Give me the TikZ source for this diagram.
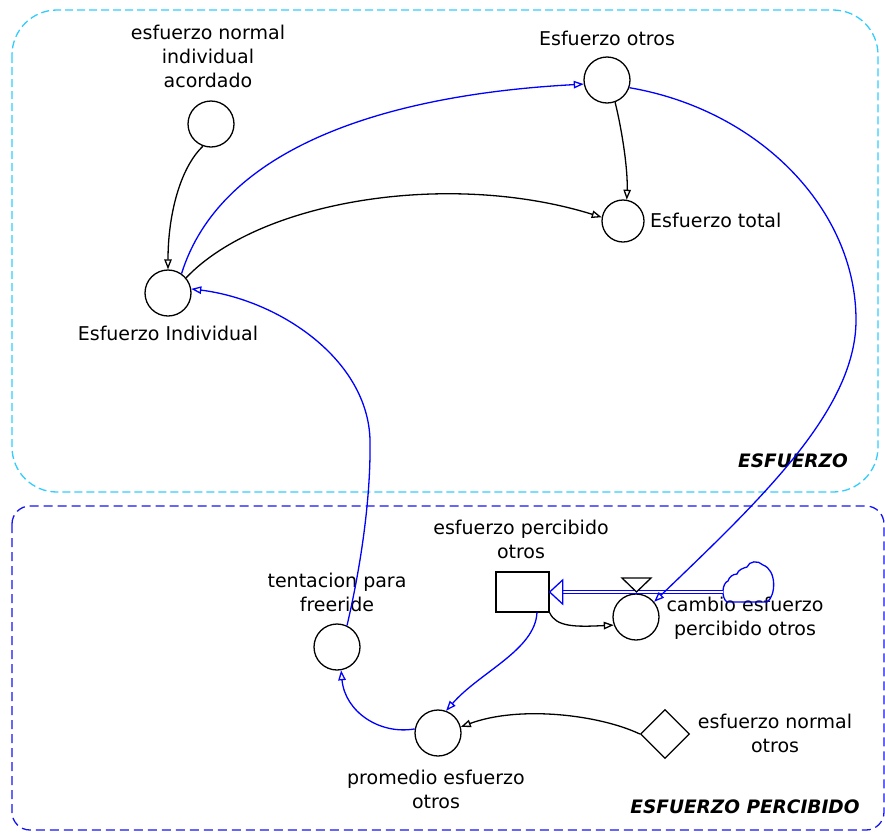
\documentclass[tikz,border=0pt]{standalone}
\usepackage{fontspec}
\setmainfont{DejaVu Sans}
\usetikzlibrary{arrows.meta,shapes.geometric,calc}
\definecolor{boxcyan}{RGB}{51,204,255}
\definecolor{boxblue}{RGB}{20,20,245}
\definecolor{linkblue}{RGB}{0,0,255}

\begin{document}
\begin{tikzpicture}[x=1pt,y=-1pt,
  aux/.style={draw, circle, minimum size=46pt, inner sep=0pt, line width=1.3pt},
  lbl/.style={font=\fontsize{19}{24}\selectfont, align=center, inner sep=0pt},
  sector/.style={font=\fontsize{18.5}{22}\selectfont\bfseries\itshape, inner sep=0pt, anchor=base},
  klink/.style={line width=1.3pt, -{Triangle[open,length=10pt,width=7.5pt]}},
  blink/.style={klink, draw=linkblue},
  pipe/.style={draw=linkblue, line width=1.1pt, double=white, double distance=2.4pt},
]
\useasboundingbox (0,0) rectangle (885,833);

% sector outlines
\draw[boxcyan, line width=1.3pt, dash pattern=on 8pt off 4pt, rounded corners=45pt]
  (12,10) rectangle (878,492);
\draw[boxblue, line width=1.3pt, dash pattern=on 9pt off 5pt, rounded corners=18pt]
  (12,506) rectangle (884,830);
\node[sector] (secA) at (793,467) {ESFUERZO};
\node[sector] (secB) at (745,813) {ESFUERZO PERCIBIDO};

% variables
\node[aux] (acord) at (211,124) {};
\node[aux] (eotros) at (607,80) {};
\node[aux, minimum size=42pt] (etotal) at (623,221) {};
\node[aux] (indiv) at (168,293) {};
\node[aux] (tent) at (337,647) {};
\node[aux] (prom) at (438,733) {};
\node[draw, diamond, minimum width=49pt, minimum height=49pt, inner sep=0pt, line width=1.3pt] (enorm) at (665,734) {};
\node[draw, rectangle, minimum width=53pt, minimum height=40pt, inner sep=0pt, line width=1.3pt] (stock) at (522.5,592) {};
\node[aux] (valve) at (636,617) {};

% labels
\node[lbl] (lacord) at (208,56) {esfuerzo normal\\individual\\acordado};
\node[lbl, anchor=base] (leotros) at (607,45) {Esfuerzo otros};
\node[lbl, anchor=base west] (letotal) at (650,227) {Esfuerzo total};
\node[lbl, anchor=base] (lindiv) at (168,340) {Esfuerzo Individual};
\node[lbl] (ltent) at (337,592) {tentacion para\\freeride};
\node[lbl] (lprom) at (436,789) {promedio esfuerzo\\otros};
\node[lbl] (lenorm) at (775,733) {esfuerzo normal\\otros};
\node[lbl] (lstock) at (521,539) {esfuerzo percibido\\otros};
\node[lbl] (lvalve) at (745,618) {cambio esfuerzo\\percibido otros};

% source cloud
\draw[linkblue, line width=1.3pt]
  (727,602) -- (767,602)
  .. controls (776,596) and (777,570) .. (763,565)
  .. controls (758,560) and (749,561) .. (747,567)
  .. controls (743,568) and (738,570) .. (737,574)
  .. controls (733,574) and (729,577) .. (728,581)
  .. controls (722,583) and (721,598) .. (727,602) -- cycle;
\coordinate (cloud) at (723,592);

% flow pipe into the stock
\draw[pipe] (cloud) -- ($(stock.east)+(13,0)$);
\draw[linkblue, line width=1.3pt, fill=white] (stock.east) -- ++(13,-12) -- ++(0,24) -- cycle;
\draw[line width=1.3pt, fill=white] (622,578) -- (651,578) -- (636.5,592) -- cycle;

% links
\draw[klink] (acord.-110) .. controls (180,168) and (168,215) .. (indiv.north);
\draw[blink] (indiv.55) .. controls (220,150) and (380,95) .. (eotros.190);
\draw[klink] (indiv.40) .. controls (260,200) and (450,170) .. (etotal.170);
\draw[klink] (eotros.-70) .. controls (622,130) and (628,170) .. (etotal.80);
\draw[blink] (eotros.-19) .. controls (760,110) and (856,210) .. (856,320)
  .. controls (856,410) and (760,500) .. (valve.40);
\draw[klink] (stock.south east) .. controls (556,627) and (575,627) .. (valve.-160);
\draw[blink] (stock.-55) .. controls (535,650) and (480,672) .. (prom.70);
\draw[klink] (enorm.west) .. controls (600,715) and (520,705) .. (prom.15);
\draw[blink] (prom.170) .. controls (380,735) and (345,712) .. (tent.-80);
\draw[blink] (tent.65) .. controls (360,570) and (371,500) .. (370,440)
  .. controls (368,360) and (280,300) .. (indiv.10);
\end{tikzpicture}
\end{document}
